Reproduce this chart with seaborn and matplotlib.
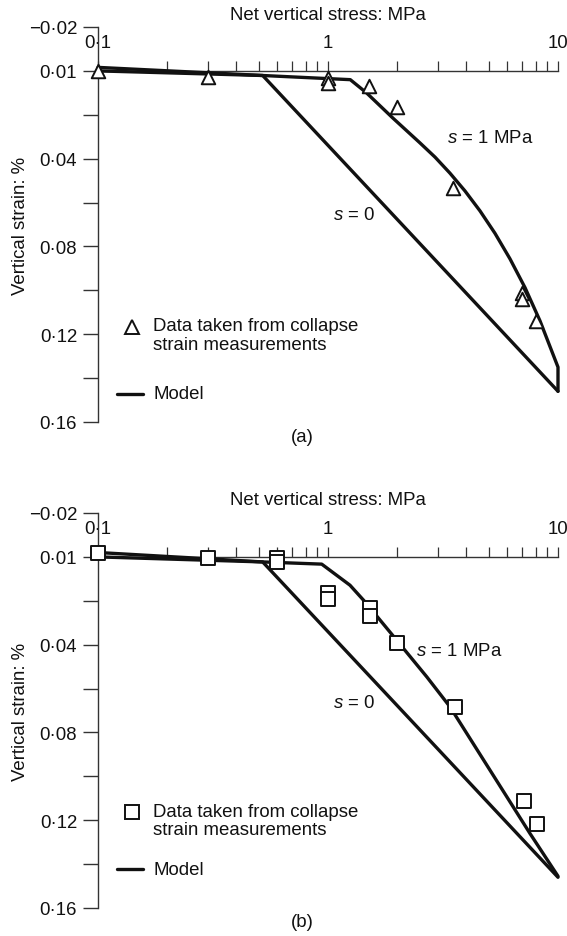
import numpy as np
import pandas as pd
import matplotlib
matplotlib.use("Agg")
import matplotlib.pyplot as plt
from matplotlib.lines import Line2D
import seaborn as sns

sns.set_style("white")
plt.rcParams['font.family'] = ['Liberation Sans', 'DejaVu Sans']
plt.rcParams['mathtext.fontset'] = 'custom'
plt.rcParams['mathtext.it'] = 'Liberation Sans:italic'
plt.rcParams['mathtext.rm'] = 'Liberation Sans'

# ---------------- data ----------------
# panel (a)
tri_a_x = [0.1, 0.3, 1.0, 1.0, 1.5, 2.0, 3.5, 7.0, 7.0, 8.0]
tri_a_y = [0.0, 0.003, 0.0033, 0.0056, 0.0068, 0.0164, 0.0533, 0.101, 0.104, 0.114]
s0_a_x = [0.1, 0.52, 10.0]
s0_a_y = [0.0, 0.0021, 0.146]
s1_a_x = [0.1, 0.52, 1.25, 1.47, 1.91, 2.51, 2.92, 3.39, 3.94, 4.58, 5.32, 6.18, 7.19,
          8.35, 10.0, 10.0]
s1_a_y = [-0.0016, 0.0021, 0.004, 0.010, 0.0214, 0.0328, 0.0393, 0.0466, 0.0547, 0.0638,
          0.074, 0.0856, 0.0988, 0.1139, 0.135, 0.146]

# panel (b)
sq_b_x = [0.1, 0.3, 0.6, 0.6, 1.0, 1.0, 1.53, 1.53, 2.0, 3.56, 7.1, 8.08]
sq_b_y = [-0.002, 0.0003, 0.0005, 0.0022, 0.0164, 0.0194, 0.0235, 0.027, 0.0392, 0.0683, 0.1113, 0.1219]
s0_b_x = [0.1, 0.52, 10.0]
s0_b_y = [0.0, 0.0023, 0.146]
s1_b_x = [0.1, 0.52, 0.939, 1.246, 1.449, 1.99, 2.69, 3.39, 4.73, 7.55, 10.0]
s1_b_y = [-0.002, 0.0023, 0.0033, 0.0129, 0.0205, 0.038, 0.0547, 0.0683, 0.0923, 0.126, 0.1455]

ytick_vals = [-0.02, 0.0, 0.02, 0.04, 0.06, 0.08, 0.10, 0.12, 0.14, 0.16]
ytick_labels = ['\u22120\u00b702', '0\u00b701', '', '0\u00b704', '', '0\u00b708', '', '0\u00b712', '', '0\u00b716']
xtick_vals = [0.1, 1, 10]
xtick_labels = ['0\u00b71', '1', '10']

FS = 13.4
INK = '#111111'

fig = plt.figure(figsize=(5.67, 9.37), dpi=100)
W, H = 567, 937

def make_ax(top_px):
    left, right, bottom = 98, 558, top_px + 395
    return fig.add_axes([left / W, 1 - bottom / H, (right - left) / W, 395 / H])

ax_a = make_ax(28)
ax_b = make_ax(514)

def style(ax):
    ax.set_xscale('log')
    ax.set_xlim(0.1, 10)
    ax.set_ylim(0.16, -0.02)
    for s in ['top', 'right']:
        ax.spines[s].set_visible(False)
    ax.spines['bottom'].set_position(('data', 0.0))
    for s in ['left', 'bottom']:
        ax.spines[s].set_color('#333333')
        ax.spines[s].set_linewidth(1.0)
    ax.set_yticks(ytick_vals)
    ax.set_yticklabels(ytick_labels)
    ax.set_xticks(xtick_vals)
    ax.set_xticklabels(xtick_labels)
    ax.xaxis.set_minor_locator(matplotlib.ticker.LogLocator(base=10, subs=np.arange(2, 10)))
    ax.xaxis.set_minor_formatter(matplotlib.ticker.NullFormatter())
    ax.tick_params(axis='y', which='major', direction='out', length=10.8, width=1.0,
                   color='#333333', labelsize=FS, pad=4.3, labelcolor=INK, left=True)
    ax.tick_params(axis='x', which='both', direction='in', length=7.2, width=0.9,
                   color='#333333', labelsize=FS, pad=-26.5, labelcolor=INK, bottom=True)
    ax.set_facecolor('white')

style(ax_a)
style(ax_b)

LW = 2.4

def draw_lines(ax, xs, ys):
    df = pd.DataFrame({'x': xs, 'y': ys})
    sns.lineplot(data=df, x='x', y='y', estimator=None, sort=False, color=INK,
                 linewidth=LW, ax=ax, clip_on=False, zorder=3)

draw_lines(ax_a, s0_a_x, s0_a_y)
draw_lines(ax_a, s1_a_x, s1_a_y)
draw_lines(ax_b, s0_b_x, s0_b_y)
draw_lines(ax_b, s1_b_x, s1_b_y)

sns.scatterplot(x=tri_a_x, y=tri_a_y, marker='^', s=95, facecolor='white', edgecolor=INK,
                linewidth=1.4, ax=ax_a, clip_on=False, zorder=5)
sns.scatterplot(x=sq_b_x, y=sq_b_y, marker='s', s=110, facecolor='white', edgecolor=INK,
                linewidth=1.4, ax=ax_b, clip_on=False, zorder=5)

for ax in (ax_a, ax_b):
    ax.set_xlabel('Net vertical stress: MPa', fontsize=FS, color=INK)
    ax.xaxis.set_label_coords(0.5, 1 + 13 / 395)
    ax.xaxis.label.set_va('center')
    ax.set_ylabel('Vertical strain: %', fontsize=FS, color=INK)
    ax.yaxis.set_label_coords((21 - 98) / 460, 0.5)
    ax.yaxis.label.set_va('center')

# curve annotations
ax_a.text(3.29, 0.0305, '$s$ = 1 MPa', fontsize=FS, color=INK, va='center', ha='left')
ax_a.text(1.05, 0.0656, '$s$ = 0', fontsize=FS, color=INK, va='center', ha='left')
ax_b.text(2.41, 0.0425, '$s$ = 1 MPa', fontsize=FS, color=INK, va='center', ha='left')
ax_b.text(1.05, 0.0662, '$s$ = 0', fontsize=FS, color=INK, va='center', ha='left')

# legends (manual placement)
def legend(ax, marker, ms, mk_y, txt_y, model_y):
    ax.add_line(Line2D([0.0739], [mk_y], marker=marker, markersize=ms, mfc='white', mec=INK,
                       mew=1.4, linestyle='none', transform=ax.transAxes, clip_on=False))
    ax.text(0.1196, txt_y, 'Data taken from collapse\nstrain measurements', transform=ax.transAxes,
            fontsize=FS, color=INK, va='center', ha='left', linespacing=1.13)
    ax.add_line(Line2D([0.0413, 0.0978], [model_y, model_y], color=INK, lw=LW,
                       transform=ax.transAxes, clip_on=False))
    ax.text(0.1196, model_y, 'Model', transform=ax.transAxes, fontsize=FS, color=INK,
            va='center', ha='left')

legend(ax_a, '^', 10, 0.2405, 0.2203, 0.0709)
legend(ax_b, 's', 10.5, 0.243, 0.2215, 0.0987)

fig.text(302 / W, 1 - 437 / H, '(a)', fontsize=FS, color=INK, ha='center', va='center')
fig.text(302 / W, 1 - 923 / H, '(b)', fontsize=FS, color=INK, ha='center', va='center')

fig.savefig('out.png', dpi=100, facecolor='white')
